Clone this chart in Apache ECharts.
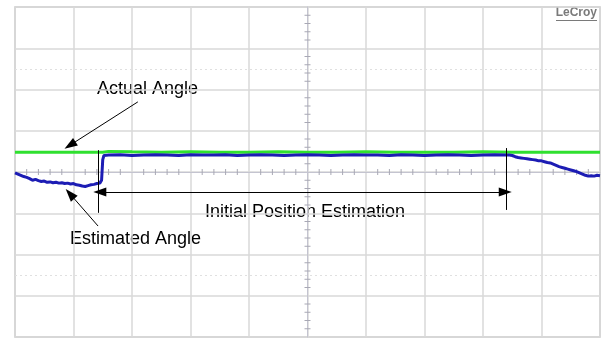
<!DOCTYPE html>
<html>
<head>
<meta charset="utf-8">
<script src="https://cdn.jsdelivr.net/npm/echarts@6/dist/echarts.min.js"></script>
<style>html,body{margin:0;padding:0;background:#fff;}#c{width:603px;height:340px;}</style>
</head>
<body>
<div id="c"></div>
<script>
// Time in divisions relative to screen centre, amplitude in divisions
var blueT = [
  -5.00,-4.95,-4.90,-4.85,-4.80,-4.75,-4.70,-4.65,-4.60,-4.55,
  -4.50,-4.45,-4.40,-4.35,-4.30,-4.25,-4.20,-4.15,-4.10,-4.05,
  -4.00,-3.95,-3.90,-3.85,-3.80,-3.75,-3.70,-3.65,-3.60,-3.55,
  -3.52,-3.50,-3.48,-3.45,
  -3.4,-3.2,-3.0,-2.8,-2.6,-2.4,-2.2,-2.0,-1.8,-1.6,-1.4,-1.2,-1.0,-0.8,-0.6,-0.4,-0.2,
  0.0,0.2,0.4,0.6,0.8,1.0,1.2,1.4,1.6,1.8,2.0,2.2,2.4,2.6,2.8,3.0,3.2,3.4,
  3.45,3.50,3.55,3.60,3.65,3.70,3.75,3.80,3.85,3.90,3.95,4.00,4.05,4.10,4.15,4.20,
  4.25,4.30,4.35,4.40,4.45,4.50,4.55,4.60,4.65,4.70,4.75,4.80,4.85,4.90,4.95,5.00
];
var blueV = [
  -0.02,-0.05,-0.08,-0.11,-0.13,-0.16,-0.20,-0.18,-0.21,-0.23,
  -0.22,-0.25,-0.24,-0.26,-0.25,-0.27,-0.26,-0.28,-0.27,-0.29,
  -0.28,-0.31,-0.32,-0.34,-0.35,-0.33,-0.31,-0.30,-0.28,-0.27,
  -0.20,0.30,0.40,0.42,
  0.41,0.42,0.40,0.41,0.42,0.41,0.40,0.42,0.41,0.41,0.42,0.40,0.41,0.42,0.41,0.40,0.41,
  0.42,0.41,0.40,0.41,0.42,0.41,0.41,0.40,0.42,0.41,0.40,0.41,0.42,0.41,0.40,0.41,0.42,0.41,
  0.41,0.40,0.37,0.35,0.34,0.33,0.32,0.31,0.30,0.29,0.27,0.27,0.25,0.23,0.22,0.19,
  0.16,0.13,0.11,0.09,0.07,0.05,0.03,0.01,-0.02,-0.05,-0.08,-0.10,-0.09,-0.10,-0.08,-0.09
];
var greenT = [-5.0,-4.5,-4.0,-3.5,-3.4,-3.0,-2.5,-2.0,-1.5,-1.0,-0.5,0.0,0.5,1.0,1.5,2.0,2.5,3.0,3.5,4.0,4.5,5.0];
var greenV = [0.48,0.48,0.48,0.48,0.50,0.49,0.48,0.49,0.48,0.48,0.49,0.48,0.48,0.49,0.48,0.48,0.48,0.49,0.48,0.48,0.48,0.48];

var labels = {
  actual: "Actual Angle",
  estimated: "Estimated Angle",
  initial: "Initial Position Estimation",
  brand: "LeCroy"
};

function zip(a, b) { return a.map(function (v, i) { return [v, b[i]]; }); }

// graticule minor tick marks (5 per division) on the centre axes
var tickMarks = [];
for (var i = -25; i <= 25; i++) { if (i % 5 !== 0) tickMarks.push(['x', i / 5]); }
for (var j = -20; j <= 20; j++) { if (j % 5 !== 0) tickMarks.push(['y', j / 5]); }

var chart = echarts.init(document.getElementById('c'));
var font = "'Liberation Sans', Arial, sans-serif";
var annStyle = { color: '#000', width: 1, type: 'solid' };

chart.setOption({
  animation: false,
  backgroundColor: '#fff',
  grid: { left: 15, right: 3, top: 7, bottom: 3, show: true, borderColor: '#c4c4c4', borderWidth: 1.5 },
  xAxis: {
    type: 'value', min: -5, max: 5, interval: 1,
    axisLabel: { show: false },
    axisLine: { show: true, onZero: true, lineStyle: { color: '#c4c4d0', width: 1 } },
    axisTick: { show: false },
    splitLine: { show: true, lineStyle: { color: '#d8d8d8', width: 1.5 } }
  },
  yAxis: {
    type: 'value', min: -4, max: 4, interval: 1,
    axisLabel: { show: false },
    axisLine: { show: true, onZero: true, lineStyle: { color: '#c4c4d0', width: 1 } },
    axisTick: { show: false },
    splitLine: { show: true, lineStyle: { color: '#d8d8d8', width: 1.5 } }
  },
  series: [
    {
      type: 'custom', silent: true, z: 1,
      data: tickMarks.map(function (d) { return [d[0] === 'x' ? 0 : 1, d[1]]; }),
      encode: { x: -1, y: -1 },
      renderItem: function (params, api) {
        var isY = api.value(0) === 1, v = api.value(1);
        var p = isY ? api.coord([0, v]) : api.coord([v, 0]);
        var h = 3;
        return {
          type: 'line',
          shape: isY ? { x1: p[0] - h, y1: p[1], x2: p[0] + h, y2: p[1] } : { x1: p[0], y1: p[1] - h, x2: p[0], y2: p[1] + h },
          style: { stroke: '#a8a8b4', lineWidth: 1 }
        };
      }
    },
    {
      name: 'Actual', type: 'line', data: zip(greenT, greenV), showSymbol: false, symbol: 'none',
      lineStyle: { color: '#2fe02f', width: 3 }, z: 3,
      markLine: {
        silent: true, animation: false, symbol: 'none',
        lineStyle: { color: '#e0e0e0', width: 1, type: [2, 3] },
        label: { show: false },
        data: [[{ coord: [-5, 2.5] }, { coord: [5, 2.5] }], [{ coord: [-5, -2.5] }, { coord: [5, -2.5] }]]
      }
    },
    {
      name: 'Estimated', type: 'line', data: zip(blueT, blueV), showSymbol: false, symbol: 'none',
      lineStyle: { color: '#1c1cb4', width: 3 }, z: 4,
      markLine: {
        silent: true, animation: false, label: { show: false },
        lineStyle: annStyle, symbolSize: [9, 13],
        data: [
          [{ coord: [-2.90, 1.70], symbol: 'none' }, { coord: [-4.06, 0.65], symbol: 'triangle' }],
          [{ coord: [-3.58, -1.31], symbol: 'none' }, { coord: [-4.06, -0.53], symbol: 'triangle' }],
          [{ coord: [-3.58, 0.53], symbol: 'none' }, { coord: [-3.58, -0.99], symbol: 'none' }],
          [{ coord: [3.39, 0.58], symbol: 'none' }, { coord: [3.39, -0.92], symbol: 'none' }],
          [{ coord: [-3.55, -0.485], symbol: 'triangle' }, { coord: [3.38, -0.485], symbol: 'triangle' }]
        ]
      }
    }
  ],
  graphic: [
    { type: 'text', left: 97, top: 80, style: { text: labels.actual, font: '18px ' + font, fill: '#000' } },
    { type: 'text', left: 70, top: 230, style: { text: labels.estimated, font: '18px ' + font, fill: '#000' } },
    { type: 'text', left: 205, top: 203, style: { text: labels.initial, font: '18px ' + font, fill: '#000' } },
    { type: 'text', right: 6, top: 7, style: { text: labels.brand, font: 'bold 12px ' + font, fill: '#7a7a7a' } },
    { type: 'rect', right: 6, top: 20, shape: { width: 41, height: 1 }, style: { fill: '#7a7a7a' } }
  ]
});
</script>
</body>
</html>
